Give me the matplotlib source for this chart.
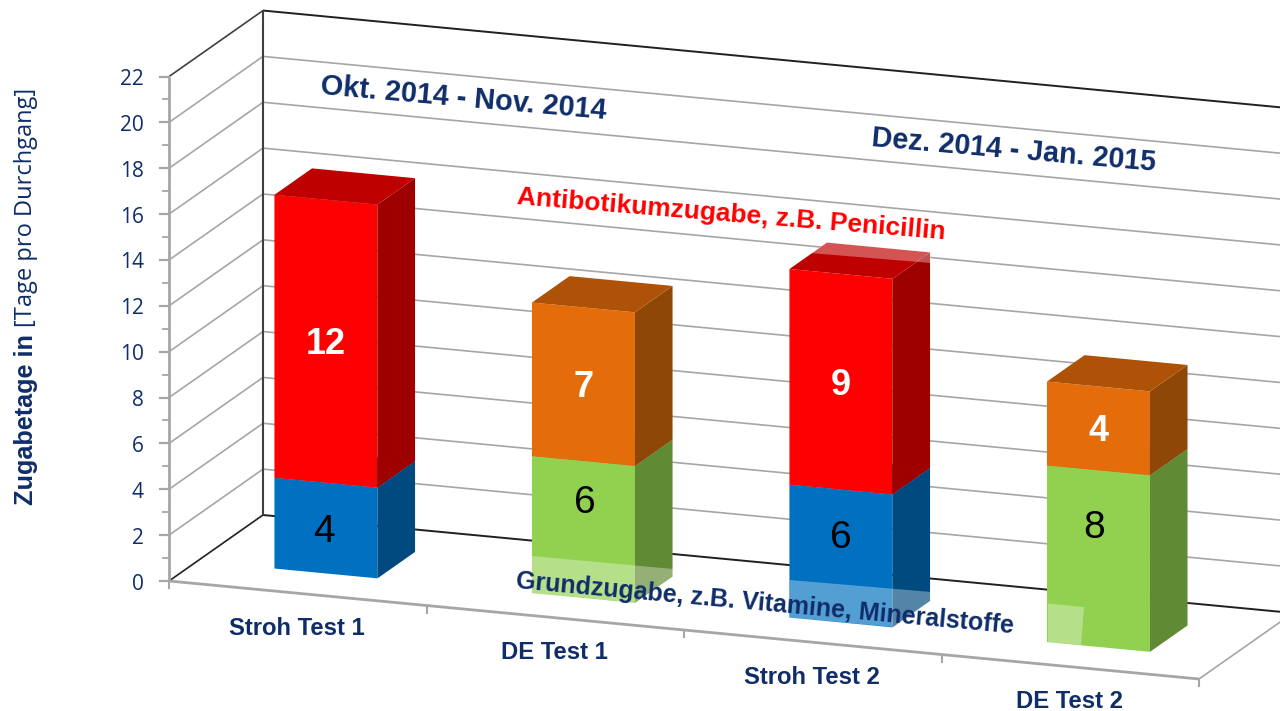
import matplotlib
matplotlib.use("Agg")
import matplotlib.pyplot as plt

categories = ["Stroh Test 1", "DE Test 1", "Stroh Test 2", "DE Test 2"]
# bar heights, the printed labels are rounded
grund_values = [3.96, 5.97, 5.8, 7.7]
zusatz_values = [12.34, 6.7, 9.4, 3.66]
grund_labels = ["4", "6", "6", "8"]
zusatz_labels = ["12", "7", "9", "4"]
# True = Stroh (blue/red), False = DE (green/orange)
is_stroh = [True, False, True, False]
y_ticks = list(range(0, 24, 2))
y_minor = list(range(1, 23, 2))

navy = "#0F2D69"
grid = "#A6A6A6"

# colours: front, top, side
blue = ("#0070C0", "#00508A", "#004A80")
red = ("#FF0000", "#BF0000", "#9E0000")
green = ("#92D050", "#6E9C3C", "#618A35")
orange = ("#E46C0A", "#AE5207", "#8F4708")


def project(c, v, d=0.0):
    # category, value, depth -> pixel position of the oblique 3d view
    x = 169 + 257.5 * c + 94 * d
    y = 581 + 24.5 * c - 66 * d - 22.93 * v
    return x, y


def line3d(ax, p0, p1, **kw):
    x0, y0 = project(*p0)
    x1, y1 = project(*p1)
    ax.plot([x0, x1], [y0, y1], solid_capstyle="butt", **kw)


def fill3d(ax, pts, color):
    xy = [project(*p) for p in pts]
    ax.fill([p[0] for p in xy], [p[1] for p in xy], color=color, lw=0, zorder=3)


def draw_block(ax, c, v0, v1, colors):
    c0, c1 = c + 0.3, c + 0.7
    d0, d1 = 0.3, 0.7
    fill3d(ax, [(c0, v0, d0), (c1, v0, d0), (c1, v1, d0), (c0, v1, d0)], colors[0])
    fill3d(ax, [(c1, v0, d0), (c1, v0, d1), (c1, v1, d1), (c1, v1, d0)], colors[2])
    fill3d(ax, [(c0, v1, d0), (c1, v1, d0), (c1, v1, d1), (c0, v1, d1)], colors[1])


fig = plt.figure(figsize=(12.8, 7.11), dpi=100, facecolor="white")
ax = fig.add_axes([0, 0, 1, 1])
ax.set_xlim(0, 1280)
ax.set_ylim(711, 0)
ax.axis("off")

# walls
for v in y_ticks[1:-1]:
    line3d(ax, (0, v, 0), (0, v, 1), color=grid, lw=1.2, zorder=1)
    line3d(ax, (0, v, 1), (4.2, v, 1), color=grid, lw=1.2, zorder=1)
line3d(ax, (0, 22, 0), (0, 22, 1), color="#404040", lw=1.2, zorder=1)
line3d(ax, (0, 22, 1), (4.2, 22, 1), color="#202020", lw=1.4, zorder=1)
line3d(ax, (0, 0, 0), (0, 0, 1), color="#202020", lw=1.2, zorder=1)
line3d(ax, (0, 0, 1), (4.2, 0, 1), color="#202020", lw=1.4, zorder=1)
line3d(ax, (0, 0, 1), (0, 22, 1), color="#404040", lw=1.5, zorder=1)
line3d(ax, (4, 0, 0), (4, 0, 1), color=grid, lw=1.2, zorder=1)

# axes with ticks
line3d(ax, (0, 0, 0), (0, 22, 0), color=grid, lw=2, zorder=2)
line3d(ax, (0, 0, 0), (4, 0, 0), color=grid, lw=2, zorder=2)
for v in y_ticks:
    x, y = project(0, v)
    ax.plot([x - 9, x], [y, y], color=grid, lw=1.6, zorder=2)
    ax.text(144, y + 3, str(v), ha="right", va="center", color=navy,
            family="Open Sans", fontsize=15)
for v in y_minor:
    x, y = project(0, v)
    ax.plot([x - 6, x], [y, y], color=grid, lw=1.3, zorder=2)
for c in range(5):
    x, y = project(c, 0)
    ax.plot([x, x], [y, y + 7], color=grid, lw=1.5, zorder=2)

# where the lower labels sit, they are not centred in the original
grund_label_at = [1.96, 4.27, 3.81, 5.32]
grund_label_dx = [-2, 1, 0, -4]

# stacked bars
for i in range(len(categories)):
    low = blue if is_stroh[i] else green
    high = red if is_stroh[i] else orange
    g = grund_values[i]
    t = g + zusatz_values[i]
    draw_block(ax, i, 0, g, low)
    draw_block(ax, i, g, t, high)

    x, y = project(i + 0.5, grund_label_at[i], 0.3)
    ax.text(x + grund_label_dx[i], y + 3, grund_labels[i], ha="center", va="center", color="black",
            family="Liberation Sans", fontsize=28, zorder=5)
    x, y = project(i + 0.5, (g + t) / 2, 0.3)
    ax.text(x, y + 3.5, zusatz_labels[i], ha="center", va="center", color="white",
            family="Liberation Sans", weight="bold", fontsize=26, zorder=5)

    x, y = project(i + 0.5, 0)
    ax.text(x - 1, y + 35, categories[i], ha="center", va="center", color=navy,
            family="Liberation Sans", weight="bold", fontsize=17.2, zorder=5)

# white see-through boxes of the pasted text boxes where they cover the bars
overlays = [
    [(532, 556), (673, 569), (673, 576), (635, 602.5), (532, 593)],
    [(790, 580), (931, 592), (931, 601), (893, 627), (790, 617.5)],
    [(1048, 603.5), (1084, 607), (1081, 645), (1048, 642)],
    [(828, 242), (931, 252), (931, 263), (810, 253)],
]
for o in overlays:
    ax.fill([p[0] for p in o], [p[1] for p in o], color="white", alpha=0.33, lw=0, zorder=4)

# annotations
ax.text(464, 99, "Okt. 2014 - Nov. 2014", rotation=-5, rotation_mode="anchor",
        ha="center", va="center", color=navy, family="Liberation Sans",
        weight="bold", fontsize=20.8, zorder=6)
ax.text(1014, 150, "Dez. 2014 - Jan. 2015", rotation=-5, rotation_mode="anchor",
        ha="center", va="center", color=navy, family="Liberation Sans",
        weight="bold", fontsize=20.6, zorder=6)
ax.text(731, 215, "Antibotikumzugabe, z.B. Penicillin", rotation=-4.7, rotation_mode="anchor",
        ha="center", va="center", color="#FF0000", family="Liberation Sans",
        weight="bold", fontsize=19, zorder=6)
ax.text(765, 604, "Grundzugabe, z.B. Vitamine, Mineralstoffe", rotation=-5.2, rotation_mode="anchor",
        ha="center", va="center", color=navy, family="Liberation Sans",
        weight="bold", fontsize=18, zorder=6)

# y axis title in two parts
ax.text(26, 505, "Zugabetage in", rotation=90, ha="center", va="bottom", color=navy,
        family="Liberation Sans", weight="bold", fontsize=18.2)
ax.text(26, 327, "[Tage pro Durchgang]", rotation=90, ha="center", va="bottom", color=navy,
        family="Open Sans", fontsize=17)

fig.savefig("out.png", dpi=100)
